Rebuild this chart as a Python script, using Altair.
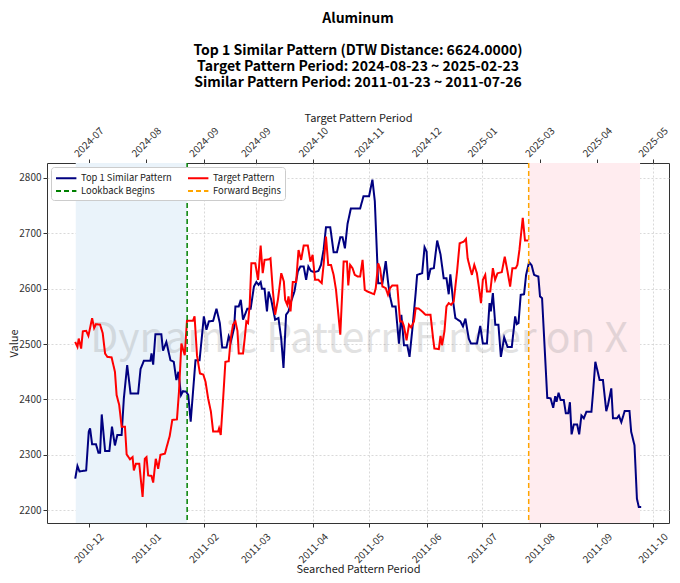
import json
import altair as alt
import pandas as pd

# ---------------- data ----------------
base_date = "2010-12-01"   # day offsets below are counted from this date

blue_day = [-7.3, -6.1, -5.0, -1.4, 0.0, 0.7, 1.8, 3.9, 5.2, 6.1, 7.0, 8.8, 11.1, 12.5, 14.1, 15.4,
            17.7, 18.9, 20.7, 22.5, 26.6, 27.9, 29.7, 33.2, 33.8, 34.7, 35.9, 39.1, 40.0, 41.8, 44.0,
            45.8, 47.2, 48.3, 49.7, 50.8, 52.5, 53.6, 54.9, 57.5, 59.7, 62.0, 63.4, 64.7, 67.0, 68.8,
            70.6, 71.9, 74.2, 75.4, 76.5, 78.3, 79.0, 80.8, 81.9, 83.1, 85.4, 87.2, 89.0, 90.3, 91.5,
            92.6, 93.3, 94.7, 96.0, 96.9, 98.3, 100.4, 102.2, 103.7, 104.9, 106.3, 107.6, 109.0, 110.8,
            112.6, 114.0, 115.8, 117.1, 118.3, 119.7, 121.5, 123.7, 125.1, 126.5, 127.8, 130.1, 131.9,
            133.7, 135.5, 136.7, 138.0, 139.4, 141.2, 146.2, 148.0, 151.0, 152.8, 154.1, 155.9, 158.2,
            160.0, 161.2, 162.3, 163.5, 165.3, 167.1, 168.4, 169.8, 171.6, 172.8, 174.3, 176.1, 176.9,
            179.6, 180.9, 182.0, 182.8, 184.1, 185.9, 187.7, 189.5, 191.2, 192.7, 193.9, 194.8, 196.3,
            197.5, 200.2, 201.6, 202.9, 204.7, 205.9, 209.1, 210.9, 212.3, 214.5, 215.9, 216.6, 217.7,
            219.0, 220.7, 222.0, 223.8, 225.6, 227.9, 229.7, 230.6, 231.5, 232.7, 234.5, 235.6, 237.2,
            238.6, 239.9, 242.2, 243.1, 244.2, 247.0, 248.8, 250.2, 251.3, 252.0, 253.1, 254.2, 255.9,
            257.0, 258.3, 259.2, 260.1, 261.3, 263.1, 264.2, 265.4, 266.7, 268.1, 270.8, 271.7, 272.9,
            274.4, 275.2, 277.0, 278.8, 279.7, 281.5, 282.4, 284.5, 285.6, 286.9, 288.7, 291.3, 292.2,
            294.0, 295.3, 296.3, 297.6]
blue_val = [2257, 2280, 2270, 2272, 2342, 2348, 2319, 2319, 2304, 2304, 2373, 2307, 2307, 2351, 2317, 2336,
            2336, 2402, 2462, 2411, 2411, 2455, 2470, 2470, 2483, 2463, 2518, 2518, 2488, 2504, 2471,
            2468, 2435, 2450, 2408, 2415, 2414, 2408, 2360, 2471, 2471, 2550, 2526, 2541, 2542, 2564,
            2538, 2494, 2494, 2514, 2504, 2529, 2568, 2568, 2580, 2544, 2564, 2564, 2604, 2612, 2607,
            2612, 2600, 2600, 2559, 2595, 2580, 2544, 2547, 2509, 2457, 2553, 2559, 2577, 2595,
            2631, 2640, 2640, 2616, 2640, 2632, 2630, 2632, 2643, 2670, 2711, 2711, 2666,
            2666, 2693, 2693, 2673, 2717, 2745, 2745, 2767, 2767, 2797, 2758, 2610, 2610,
            2650, 2613, 2586, 2568, 2568, 2501, 2553, 2498, 2498, 2477, 2526, 2592, 2625,
            2628, 2675, 2667, 2616, 2636, 2637, 2687, 2662, 2619, 2619, 2590, 2626, 2577,
            2547, 2541, 2532, 2546, 2510, 2501, 2501, 2533, 2501, 2501, 2574, 2559, 2592,
            2535, 2535, 2477, 2512, 2495, 2495, 2550, 2536, 2538, 2589, 2590, 2625, 2648,
            2642, 2625, 2622, 2586, 2583, 2403, 2402, 2385, 2406, 2396, 2412, 2399, 2399,
            2375, 2375, 2395, 2337, 2355, 2355, 2337, 2371, 2366, 2378, 2378, 2414, 2468,
            2447, 2435, 2435, 2379, 2390, 2420, 2366, 2366, 2371, 2359, 2379, 2379, 2342,
            2317, 2221, 2206, 2206]

red_day = [-7.3, -6.1, -5.4, -4.1, -3.2, -1.4, -0.2, 0.7, 1.8, 2.9, 3.9, 6.1, 7.5, 8.8, 10.0, 12.3,
           14.1, 15.0, 16.4, 17.7, 19.5, 20.4, 22.2, 23.6, 24.3, 25.4, 27.2, 29.0, 30.2, 31.1, 32.0,
           33.8, 34.7, 36.1, 37.4, 38.6, 41.0, 42.2, 43.6, 45.0, 47.5, 48.6, 49.9, 51.7, 52.9, 56.1,
           57.0, 58.3, 59.0, 59.9, 61.7, 62.9, 64.3, 65.8, 67.0, 69.7, 70.2, 71.1, 72.4, 73.6, 75.4,
           76.5, 77.7, 79.0, 80.1, 80.8, 83.1, 84.0, 84.9, 85.8, 86.7, 87.6, 89.7, 91.2, 92.6, 93.7,
           94.7, 96.9, 97.9, 99.2, 100.4, 101.9, 103.7, 105.1, 105.8, 106.9, 107.6, 108.7, 109.9, 111.7,
           113.0, 114.4, 115.8, 118.0, 119.4, 120.6, 121.9, 123.7, 125.5, 126.5, 127.8, 129.0, 130.5,
           131.9, 133.2, 135.5, 137.3, 139.1, 139.8, 140.8, 142.1, 143.3, 144.8, 146.2, 147.5, 148.7,
           150.1, 153.7, 154.6, 155.9, 156.9, 158.2, 160.0, 161.2, 162.3, 163.5, 166.2, 167.7, 168.9,
           169.8, 171.2, 172.5, 173.7, 175.2, 176.1, 177.8, 179.6, 181.4, 184.1, 185.5, 186.2, 188.6,
           189.5, 190.3, 191.6, 192.7, 193.9, 195.2, 196.6, 198.4, 199.8, 202.0, 203.2, 204.1, 205.2,
           206.4, 207.7, 209.1, 210.5, 211.3, 212.3, 213.6, 214.5, 216.3, 217.7, 218.9, 220.2, 222.5,
           224.1, 225.6, 227.0, 228.2, 230.0, 230.9, 232.0, 233.8, 235.0, 236.8]
red_val = [2504, 2495, 2510, 2492, 2523, 2524, 2515, 2529, 2547, 2529, 2536, 2535, 2520, 2483, 2477, 2476,
           2450, 2408, 2390, 2351, 2351, 2301, 2292, 2296, 2272, 2284, 2284, 2224, 2293, 2296, 2263,
           2262, 2250, 2293, 2275, 2300, 2302, 2317, 2334, 2363, 2364, 2414, 2501, 2480, 2542, 2542,
           2550, 2480, 2465, 2447, 2445, 2432, 2402, 2378, 2342, 2342, 2348, 2336, 2402, 2468, 2469,
           2510, 2535, 2541, 2524, 2483, 2483, 2510, 2541, 2538, 2571, 2646, 2646, 2616, 2678, 2628,
           2652, 2653, 2655, 2595, 2553, 2580, 2628, 2613, 2580, 2571, 2586, 2559, 2612, 2612,
           2670, 2652, 2678, 2678, 2649, 2661, 2616, 2616, 2610, 2643, 2694, 2643, 2643,
           2625, 2598, 2517, 2649, 2649, 2606, 2643, 2637, 2625, 2622, 2622, 2652, 2598,
           2595, 2590, 2601, 2646, 2637, 2604, 2601, 2589, 2601, 2606, 2606, 2541, 2541,
           2532, 2507, 2535, 2530, 2541, 2565, 2564, 2559, 2553, 2553, 2510, 2492, 2491,
           2515, 2498, 2523, 2568, 2574, 2571, 2577, 2631, 2682, 2685, 2690, 2655, 2640,
           2625, 2643, 2628, 2595, 2574, 2616, 2625, 2595, 2595, 2637, 2616, 2628, 2630,
           2658, 2631, 2604, 2637, 2637, 2643, 2670, 2728, 2687, 2687]

series_names = ["Top 1 Similar Pattern", "Lookback Begins", "Target Pattern", "Forward Begins"]
series_colors = ["#000080", "#008000", "#ff0000", "#ffa500"]
series_dash = [[1, 0], [5, 3], [1, 0], [5, 3]]

event_dates = ["2011-01-23", "2011-07-26"]
event_names = ["Lookback Begins", "Forward Begins"]

span_start = ["2010-11-24", "2011-07-26"]
span_end = ["2011-01-23", "2011-09-24"]
span_kind = ["lookback", "forward"]
span_colors = ["#eaf3fa", "#ffecef"]

bottom_ticks = ["2010-12-01", "2011-01-01", "2011-02-01", "2011-03-01", "2011-04-01", "2011-05-01",
                "2011-06-01", "2011-07-01", "2011-08-01", "2011-09-01", "2011-10-01"]
top_labels = ["2024-07", "2024-08", "2024-09", "2024-09", "2024-10", "2024-11", "2024-12",
              "2025-01", "2025-03", "2025-04", "2025-05"]
y_ticks = [2200, 2300, 2400, 2500, 2600, 2700, 2800]
x_range = ["2010-11-08 12:00", "2011-10-09 14:00"]
y_range = [2177, 2827]
watermark = ["Dynamic Pattern Finder on X"]

title_main = "Aluminum"
title_sub = ["Top 1 Similar Pattern (DTW Distance: 6624.0000)",
             "Target Pattern Period: 2024-08-23 ~ 2025-02-23",
             "Similar Pattern Period: 2011-01-23 ~ 2011-07-26"]

# ---------------- frames ----------------
base = pd.Timestamp(base_date)
lines_df = pd.concat([
    pd.DataFrame({"date": base + pd.to_timedelta(blue_day, unit="D"), "value": blue_val,
                  "series": series_names[0]}),
    pd.DataFrame({"date": base + pd.to_timedelta(red_day, unit="D"), "value": red_val,
                  "series": series_names[2]}),
])
events_df = pd.DataFrame({"date": pd.to_datetime(event_dates), "series": event_names})
spans_df = pd.DataFrame({"start": pd.to_datetime(span_start), "end": pd.to_datetime(span_end),
                         "kind": span_kind})
ticks_df = pd.DataFrame({"date": pd.to_datetime(bottom_ticks)})
wm_df = pd.DataFrame({"t": watermark})


def dt(ts):
    ts = pd.Timestamp(ts)
    return alt.DateTime(year=ts.year, month=ts.month, date=ts.day, hours=ts.hour, minutes=ts.minute)


x_domain = [dt(v) for v in x_range]
tick_values = [dt(v) for v in bottom_ticks]
FONT = "Noto Sans CJK KR"
W, H = 622, 360

x_scale = alt.Scale(domain=x_domain)
bottom_axis = alt.Axis(values=tick_values, format="%Y-%m", labelAngle=-45, labelAlign="center",
                       labelBaseline="middle", labelPadding=21, labelOverlap=False, labelFlush=False,
                       title="Searched Pattern Period", titlePadding=-1, grid=True)
y_enc = alt.Y("value:Q", scale=alt.Scale(domain=y_range, nice=False, zero=False),
              axis=alt.Axis(values=y_ticks, format="d", title="Value", titlePadding=-1, grid=True,
                            labelPadding=2))

legend_kw = dict(title=None, symbolType="M-1,0H2.4", symbolSize=144, symbolStrokeWidth=2)
color_enc = alt.Color("series:N", scale=alt.Scale(domain=series_names, range=series_colors),
                      legend=alt.Legend(**legend_kw))
dash_enc = alt.StrokeDash("series:N", scale=alt.Scale(domain=series_names, range=series_dash),
                          legend=alt.Legend(**legend_kw))

spans = alt.Chart(spans_df).mark_rect().encode(
    x=alt.X("start:T", scale=x_scale, axis=bottom_axis),
    x2="end:T",
    fill=alt.Fill("kind:N", scale=alt.Scale(domain=span_kind, range=span_colors), legend=None),
)

wm = alt.Chart(wm_df).mark_text(fontSize=40.8, font=FONT, color="#808080", opacity=0.22,
                                baseline="middle", align="center").encode(
    x=alt.value(W / 2 + 1), y=alt.value(H / 2 - 3), text="t:N")

lines = alt.Chart(lines_df).mark_line(strokeWidth=2).encode(
    x=alt.X("date:T", scale=x_scale, axis=bottom_axis),
    y=y_enc,
    color=color_enc,
    strokeDash=dash_enc,
    detail="series:N",
)

rules = alt.Chart(events_df).mark_rule(strokeWidth=1.5).encode(
    x=alt.X("date:T", scale=x_scale, axis=bottom_axis),
    color=color_enc,
    strokeDash=dash_enc,
)

inner = alt.layer(spans, wm, lines, rules)

keys = [t[:7] for t in bottom_ticks]
label_expr = f"{json.dumps(top_labels)}[indexof({json.dumps(keys)}, timeFormat(datum.value, '%Y-%m'))]"

top = alt.Chart(ticks_df).mark_rule(opacity=0).encode(
    x=alt.X("date:T", scale=x_scale,
            axis=alt.Axis(orient="top", values=tick_values, labelExpr=label_expr, labelAngle=-45,
                          labelAlign="center", labelBaseline="middle", labelPadding=17,
                          labelOverlap=False, labelFlush=False, title="Target Pattern Period",
                          titlePadding=2, grid=False))
)

chart = alt.layer(inner, top).resolve_scale(x="independent").properties(
    width=W, height=H,
    title=alt.TitleParams(text=title_main, subtitle=title_sub, anchor="middle", fontSize=14,
                          fontWeight="bold", font=FONT, color="#000000", subtitleFont=FONT,
                          subtitleFontSize=14, subtitleFontWeight="bold", subtitleColor="#000000",
                          subtitleLineHeight=16, subtitlePadding=18, offset=22),
    autosize=alt.AutoSizeParams(type="none"),
    padding={"left": 39, "top": 155, "right": 3, "bottom": 52},
).configure_view(
    stroke="#333333", strokeWidth=1
).configure_axis(
    domain=False, tickColor="#333333", tickSize=4, labelFont=FONT, labelFontSize=10,
    labelColor="#333333", titleFont=FONT, titleFontSize=11, titleFontWeight="normal",
    titleColor="#222222", gridColor="#cfcfcf", gridDash=[2, 2], gridWidth=0.8
).configure_legend(
    orient="top-left", columns=2, offset=4, padding=4, fillColor="#ffffff",
    strokeColor="#cccccc", cornerRadius=3, labelFont=FONT, labelFontSize=9.4, labelColor="#222222",
    rowPadding=1, columnPadding=12, labelOffset=12
)

chart.save("out.html", embed_options={"renderer": "svg", "actions": False})
